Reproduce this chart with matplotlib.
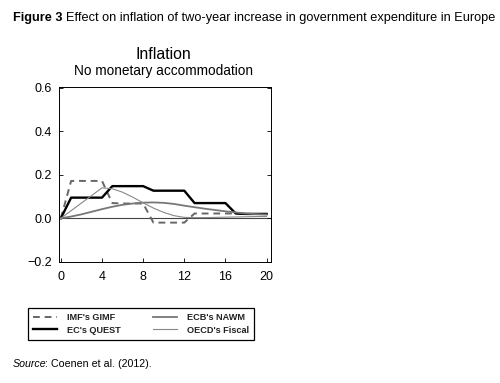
import numpy as np
import matplotlib.pyplot as plt

plt.rcParams['font.family'] = ['Liberation Sans', 'DejaVu Sans']

# quarters after the shock
quarters = np.arange(0, 21)

# inflation response, percentage points
gimf = [0, .172, .172, .172, .172, .07, .068, .068, .068, -.02, -.02, -.02, -.02,
        .022, .022, .022, .022, .022, .02, .02, .02]
quest = [0, .095, .095, .095, .095, .148, .148, .148, .148, .127, .127, .127, .127,
         .07, .07, .07, .07, .022, .02, .02, .02]
nawm = [0, .008, .018, .03, .042, .053, .062, .068, .072, .073, .071, .066, .058,
        .051, .044, .038, .032, .027, .022, .019, .017]
oecd = [0, .035, .07, .105, .14, .136, .12, .097, .071, .047, .027, .012, .004,
        .003, .003, .004, .005, .006, .007, .008, .008]

labels = ["IMF's GIMF", "EC's QUEST", "ECB's NAWM", "OECD's Fiscal"]
xticks = [0, 4, 8, 12, 16, 20]
yticks = [-0.2, 0.0, 0.2, 0.4, 0.6]

fig = plt.figure(figsize=(5, 3.83), dpi=100)
ax = fig.add_axes([0.1186, 0.3167, 0.4228, 0.4553])

ax.axhline(0, color='#444444', lw=0.8, zorder=1)
l1, = ax.plot(quarters, gimf, color='#666666', lw=1.4, ls=(0, (3.5, 2.5)))
l2, = ax.plot(quarters, quest, color='black', lw=1.7)
l3, = ax.plot(quarters, nawm, color='#777777', lw=1.3)
l4, = ax.plot(quarters, oecd, color='#888888', lw=0.8)

ax.set_xlim(-0.15, 20.4)
ax.set_ylim(-0.2, 0.603)
ax.set_xticks(xticks)
ax.set_yticks(yticks)
ax.set_yticklabels(['\u22120.2', '0.0', '0.2', '0.4', '0.6'])
ax.tick_params(direction='in', length=3, width=0.6, labelsize=9, pad=5,
               right=True)
ax.tick_params(axis='x', pad=7)
for s in ax.spines.values():
    s.set_linewidth(0.7)

fig.text(0.326, 0.858, 'Inflation', ha='center', va='center', fontsize=11.4)
fig.text(0.326, 0.814, 'No monetary accommodation', ha='center', va='center', fontsize=9.8)

# header: bold label followed by normal text
t = fig.text(0.026, 0.952, 'Figure 3', fontsize=9.15, fontweight='bold', va='center')
fig.canvas.draw()
bb = t.get_window_extent()
fig.text((bb.x1 + 3) / 500, 0.952,
         'Effect on inflation of two-year increase in government expenditure in Europe',
         fontsize=9.15, va='center')

t2 = fig.text(0.026, 0.05, 'Source', fontsize=7.7, style='italic', va='center')
fig.canvas.draw()
bb2 = t2.get_window_extent()
fig.text((bb2.x1 - 1.5) / 500, 0.05, ': Coenen et al. (2012).', fontsize=7.7, va='center')

leg = fig.legend([l1, l2, l3, l4], labels, ncol=2, loc='center',
                 bbox_to_anchor=(0.0566, 0.154, 0.452, 0.0), mode='expand',
                 frameon=True, fancybox=False, edgecolor='black', framealpha=1,
                 prop={'size': 6.6, 'weight': 'bold'}, handlelength=2.6,
                 labelspacing=0.35, borderpad=0.55, handletextpad=1.1,
                 borderaxespad=0)
leg.get_frame().set_linewidth(0.9)
for txt in leg.get_texts():
    txt.set_color('#222222')

fig.savefig('out.png', dpi=100)
